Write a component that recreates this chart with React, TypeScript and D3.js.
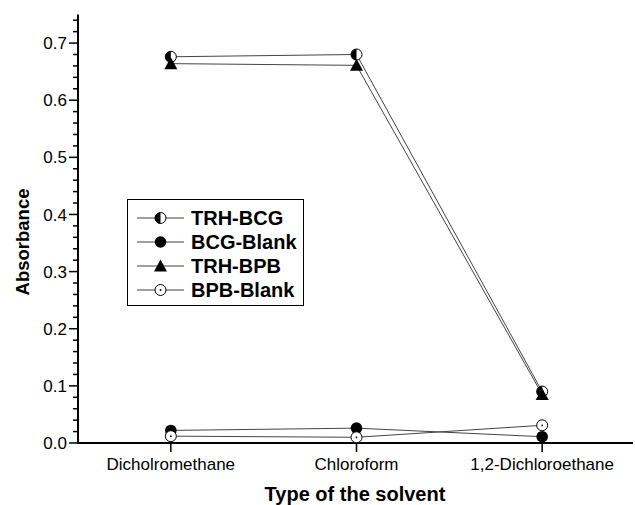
import React from "react";
import * as d3 from "d3";

const solvents = ["Dicholromethane", "Chloroform", "1,2-Dichloroethane"];
const trhBcg = [0.676, 0.68, 0.09];
const bcgBlank = [0.022, 0.026, 0.011];
const trhBpb = [0.664, 0.661, 0.085];
const bpbBlank = [0.012, 0.01, 0.031];
const yMajorTicks = [0, 0.1, 0.2, 0.3, 0.4, 0.5, 0.6, 0.7];
const seriesNames = ["TRH-BCG", "BCG-Blank", "TRH-BPB", "BPB-Blank"];

const W = 635;
const H = 505;
const m = { left: 78, right: 0, top: 14.5, bottom: 62 };
const FONT = "'Liberation Sans', Arial, Helvetica, sans-serif";

type Kind = "half" | "filled" | "triangle" | "dotted";

function Marker({ kind, x, y }: { kind: Kind; x: number; y: number }) {
  const r = 5.5;
  if (kind === "filled") return <circle cx={x} cy={y} r={r + 0.3} fill="#000" />;
  if (kind === "triangle") {
    const s = 6.5;
    return (
      <path
        d={`M${x},${y - s}L${x + s},${y + s * 0.85}L${x - s},${y + s * 0.85}Z`}
        fill="#000"
      />
    );
  }
  if (kind === "dotted")
    return (
      <g>
        <circle cx={x} cy={y} r={r} fill="#fff" stroke="#000" strokeWidth={1} />
        <circle cx={x} cy={y} r={0.9} fill="#000" />
      </g>
    );
  return (
    <g>
      <circle cx={x} cy={y} r={r} fill="#fff" stroke="#000" strokeWidth={1} />
      <path d={`M${x},${y - r}A${r},${r} 0 0 0 ${x},${y + r}Z`} fill="#000" />
    </g>
  );
}

export default function App() {
  const x = d3
    .scalePoint<string>()
    .domain(solvents)
    .range([m.left, W - m.right])
    .padding(0.5);
  const y = d3
    .scaleLinear()
    .domain([0, 0.75])
    .range([H - m.bottom, m.top]);

  const minorTicks = d3.range(0, 0.7401, 0.02).filter(
    (v) => Math.abs(v * 10 - Math.round(v * 10)) > 1e-6
  );

  const series: { name: string; values: number[]; kind: Kind }[] = [
    { name: seriesNames[0], values: trhBcg, kind: "half" },
    { name: seriesNames[1], values: bcgBlank, kind: "filled" },
    { name: seriesNames[2], values: trhBpb, kind: "triangle" },
    { name: seriesNames[3], values: bpbBlank, kind: "dotted" },
  ];

  const line = d3
    .line<number>()
    .x((_, i) => x(solvents[i]) as number)
    .y((v) => y(v));

  const y0 = y(0);

  return (
    <div style={{ position: "absolute", left: 0, top: 0 }}>
      <svg width={W} height={H} style={{ display: "block", background: "#fff" }}>
        {/* data lines */}
        {series.map((s) => (
          <path
            key={s.name + "-line"}
            d={line(s.values) || ""}
            fill="none"
            stroke="#444"
            strokeWidth={1}
          />
        ))}

        {/* y axis */}
        <line x1={m.left} x2={m.left} y1={m.top} y2={y0} stroke="#000" strokeWidth={2} />
        {yMajorTicks.map((t) => (
          <g key={"yt" + t}>
            <line x1={m.left - 9} x2={m.left} y1={y(t)} y2={y(t)} stroke="#000" strokeWidth={1.5} />
            <text
              x={m.left - 11}
              y={y(t)}
              dy="0.36em"
              textAnchor="end"
              fontFamily={FONT}
              fontSize={17}
              fill="#000"
            >
              {t.toFixed(1)}
            </text>
          </g>
        ))}
        {minorTicks.map((t) => (
          <line
            key={"ym" + t}
            x1={m.left - 5}
            x2={m.left}
            y1={y(t)}
            y2={y(t)}
            stroke="#000"
            strokeWidth={1.5}
          />
        ))}

        {/* x axis */}
        <line x1={m.left - 1} x2={W - 2} y1={y0} y2={y0} stroke="#000" strokeWidth={2} />
        {solvents.map((c) => (
          <g key={"xt" + c}>
            <line x1={x(c)} x2={x(c)} y1={y0} y2={y0 + 9} stroke="#000" strokeWidth={1.5} />
            <text
              x={x(c)}
              y={470}
              textAnchor="middle"
              fontFamily={FONT}
              fontSize={17}
              fill="#000"
            >
              {c}
            </text>
          </g>
        ))}

        {/* axis titles */}
        <text
          x={355}
          y={501}
          textAnchor="middle"
          fontFamily={FONT}
          fontWeight="bold"
          fontSize={20}
          fill="#000"
        >
          Type of the solvent
        </text>
        <text
          transform={`translate(29,242) rotate(-90)`}
          textAnchor="middle"
          fontFamily={FONT}
          fontWeight="bold"
          fontSize={18.5}
          fill="#000"
        >
          Absorbance
        </text>

        {/* data markers */}
        {series.map((s) =>
          s.values.map((v, i) => (
            <Marker key={s.name + i} kind={s.kind} x={x(solvents[i]) as number} y={y(v)} />
          ))
        )}

        {/* legend */}
        <rect x={127.5} y={199.5} width={176} height={106} fill="#fff" stroke="#000" strokeWidth={1} />
        {series.map((s, i) => {
          const ly = 218 + i * 24;
          return (
            <g key={"lg" + s.name}>
              <line x1={137} x2={184} y1={ly} y2={ly} stroke="#444" strokeWidth={1} />
              <Marker kind={s.kind} x={160.5} y={ly} />
              <text
                x={191}
                y={ly}
                dy="0.36em"
                fontFamily={FONT}
                fontWeight="bold"
                fontSize={20}
                fill="#000"
              >
                {s.name}
              </text>
            </g>
          );
        })}
      </svg>
    </div>
  );
}
